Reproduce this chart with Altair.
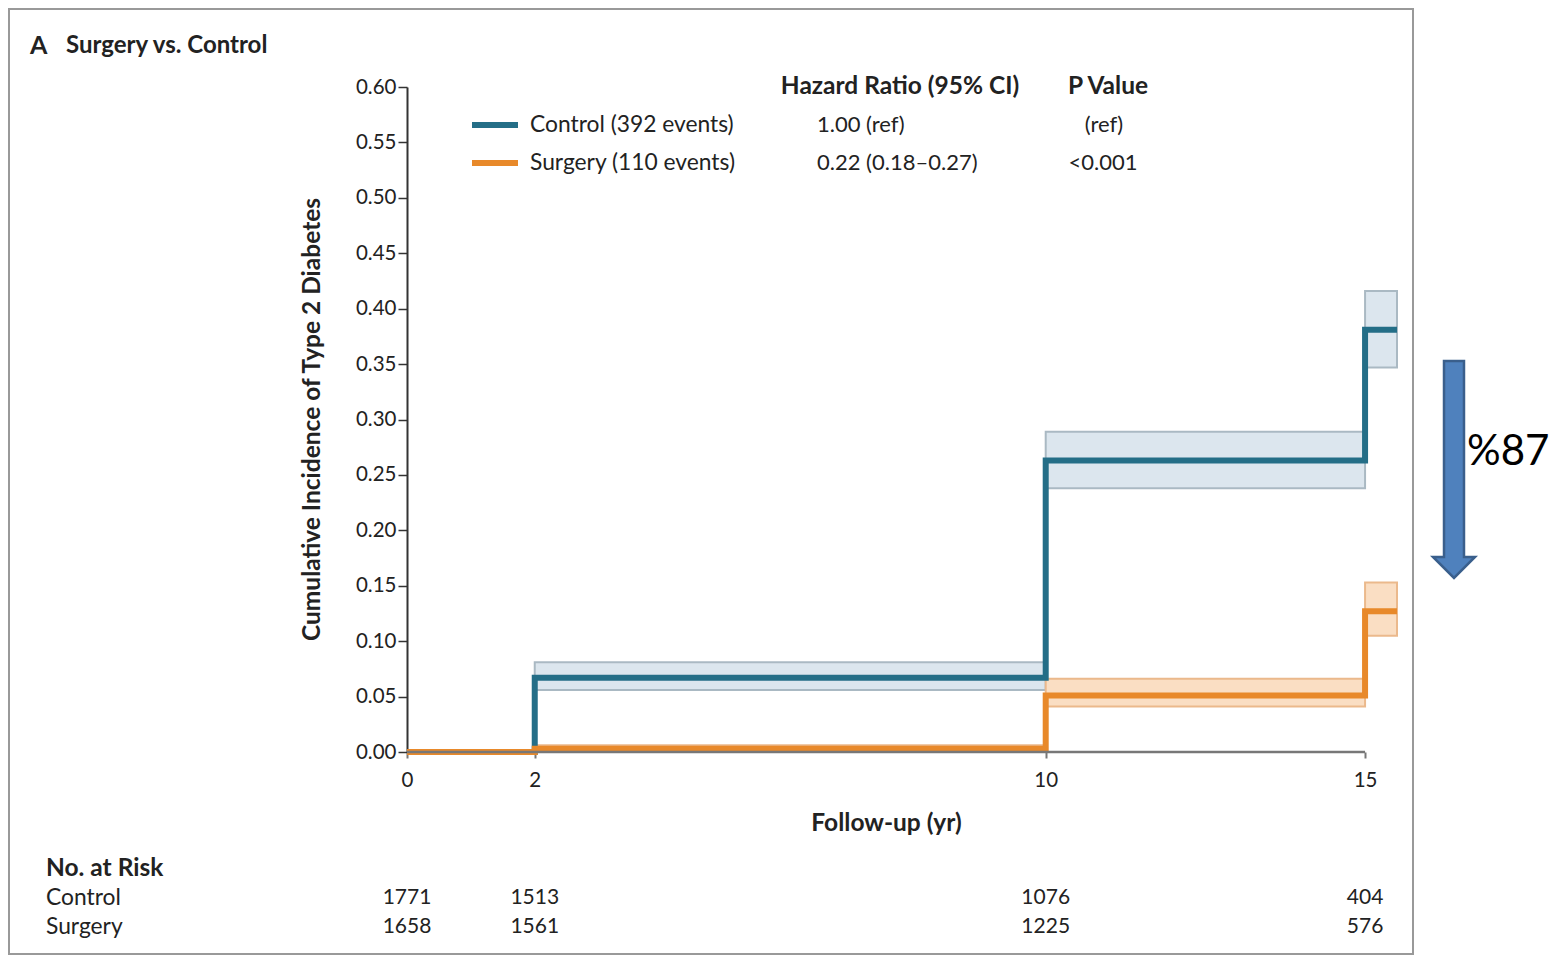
import altair as alt
import pandas as pd

# ---- data ----
times = [0, 2, 10, 15, 15.5]
control_inc = [0.0, 0.067, 0.263, 0.381, 0.381]
surgery_inc = [0.0, 0.003, 0.051, 0.127, 0.127]

band_start = [2, 10, 15]
band_end = [10, 15, 15.5]
control_lo = [0.056, 0.238, 0.347]
control_hi = [0.081, 0.289, 0.416]
surgery_lo = [0.001, 0.041, 0.105]
surgery_hi = [0.006, 0.066, 0.153]

risk_times = [0, 2, 10, 15]
risk_control = [1771, 1513, 1076, 404]
risk_surgery = [1658, 1561, 1225, 576]

y_ticks = [0.00, 0.05, 0.10, 0.15, 0.20, 0.25, 0.30, 0.35, 0.40, 0.45, 0.50, 0.55, 0.60]
x_ticks = [0, 2, 10, 15]

C_CTRL = "#246E87"
C_SURG = "#E8892A"
FONT = "Lato"
TXT = "#222222"
BOLD = 24.5

curves = pd.DataFrame({
    "t": times * 2,
    "inc": control_inc + surgery_inc,
    "grp": ["Control"] * len(times) + ["Surgery"] * len(times),
})
ctrl_band = pd.DataFrame({"t0": band_start, "t1": band_end, "lo": control_lo, "hi": control_hi})
surg_band = pd.DataFrame({"t0": band_start, "t1": band_end, "lo": surgery_lo, "hi": surgery_hi})
risk = pd.DataFrame({"t": risk_times, "c": risk_control, "s": risk_surgery})
one = pd.DataFrame({"k": [0]})

xs = alt.Scale(domain=[0, 15.5], nice=False, zero=False)
ys = alt.Scale(domain=[0, 0.6], nice=False)

x_axis = alt.Axis(values=x_ticks, format="d", labelFlush=False, domain=False, tickSize=6,
                  tickColor="#777777", tickWidth=2,
                  labelFontSize=20.5, labelColor=TXT, labelPadding=12, grid=False,
                  title="Follow-up (yr)", titleFontSize=BOLD, titleFontWeight="bold", titleColor=TXT,
                  titleX=479, titleY=71, titleBaseline="middle", titleAlign="center")
y_axis = alt.Axis(values=y_ticks, format=".2f", tickSize=9, tickColor="#333333", tickWidth=1.5,
                  domainColor="#333333", domainWidth=2, labelFontSize=20.5, labelColor=TXT,
                  labelPadding=2, grid=False,
                  title="Cumulative Incidence of Type 2 Diabetes", titleFontSize=BOLD,
                  titleFontWeight="bold", titleColor=TXT, titleX=-95, titleY=332,
                  titleAngle=-90, titleBaseline="middle", titleAlign="center")

band_c = alt.Chart(ctrl_band).mark_rect(fill="#DCE6EE", stroke="#AAB9C3", strokeWidth=2).encode(
    x=alt.X("t0:Q", scale=xs, axis=x_axis), x2="t1:Q",
    y=alt.Y("lo:Q", scale=ys, axis=y_axis), y2="hi:Q")
band_s = alt.Chart(surg_band).mark_rect(fill="#FADEC3", stroke="#EBB98C", strokeWidth=2).encode(
    x=alt.X("t0:Q", scale=xs), x2="t1:Q", y=alt.Y("lo:Q", scale=ys), y2="hi:Q")

lines = alt.Chart(curves).mark_line(interpolate="step-after", strokeWidth=6, strokeJoin="miter").encode(
    x=alt.X("t:Q", scale=xs),
    y=alt.Y("inc:Q", scale=ys),
    color=alt.Color("grp:N", scale=alt.Scale(domain=["Control", "Surgery"], range=[C_CTRL, C_SURG]), legend=None),
    order=alt.Order("t:Q"),
)

x_line = alt.Chart(one).mark_rule(color="#777777", strokeWidth=2.5).encode(
    x=alt.datum(0, scale=xs), x2=alt.datum(15), y=alt.datum(0, scale=ys))


def txt(text, x, y, size=22.8, weight="normal", align="left", color=TXT, **kw):
    return alt.Chart(one).mark_text(text=text, fontSize=size, fontWeight=weight, align=align,
                                    baseline="middle", color=color, font=FONT, **kw).encode(
        x=alt.value(x), y=alt.value(y))


def leg_line(color, y):
    return alt.Chart(one).mark_rule(color=color, strokeWidth=6).encode(
        x=alt.value(65), x2=alt.value(111), y=alt.value(y))


annotations = [
    txt("A", -377, -41, size=25, weight="bold"),
    txt("Surgery vs. Control", -341, -41, size=24, weight="bold"),
    leg_line(C_CTRL, 38), leg_line(C_SURG, 76),
    txt("Control (392 events)", 123, 38),
    txt("Surgery (110 events)", 123, 76),
    txt("Hazard Ratio (95% CI)", 493, 0, size=BOLD, weight="bold", align="center"),
    txt("P Value", 701, 0, size=BOLD, weight="bold", align="center"),
    txt("1.00 (ref)", 410, 38, size=22),
    txt("0.22 (0.18\u20130.27)", 410, 76, size=22),
    txt("(ref)", 697, 38, size=22, align="center"),
    txt("<0.001", 696, 76, size=22, align="center"),
    txt("No. at Risk", -361, 782, size=BOLD, weight="bold"),
    txt("Control", -361, 811),
    txt("Surgery", -361, 840),
    txt("%87", 1060, 365, size=42, color="#000000"),
]

risk_c = alt.Chart(risk).mark_text(fontSize=21, baseline="middle", align="center", color=TXT, font=FONT).encode(
    x=alt.X("t:Q", scale=xs), y=alt.value(811), text="c:Q")
risk_s = alt.Chart(risk).mark_text(fontSize=21, baseline="middle", align="center", color=TXT, font=FONT).encode(
    x=alt.X("t:Q", scale=xs), y=alt.value(840), text="s:Q")

arrow_path = "M -0.476 -5.167 L 0.476 -5.167 L 0.476 4.167 L 1 4.167 L 0 5.167 L -1 4.167 L -0.476 4.167 Z"
arrow = alt.Chart(one).mark_point(shape=arrow_path, size=1764, filled=True, fill="#4F81BD",
                                  stroke="#3A5F8C", strokeWidth=2.5, opacity=1).encode(
    x=alt.value(1047), y=alt.value(382.5))

frame = alt.Chart(one).mark_rect(fillOpacity=0, stroke="#999999", strokeWidth=2).encode(
    x=alt.value(-398), x2=alt.value(1006), y=alt.value(-78), y2=alt.value(867))

chart = alt.layer(
    frame, band_c, band_s, lines, x_line, risk_c, risk_s, arrow, *annotations
).properties(
    width=990, height=665,
    padding={"left": 399, "top": 79, "right": 152, "bottom": 206},
    autosize=alt.AutoSizeParams(type="none"),
).configure(font=FONT).configure_view(stroke=None)

chart.save("out.html", embed_options={"renderer": "svg", "actions": False})
